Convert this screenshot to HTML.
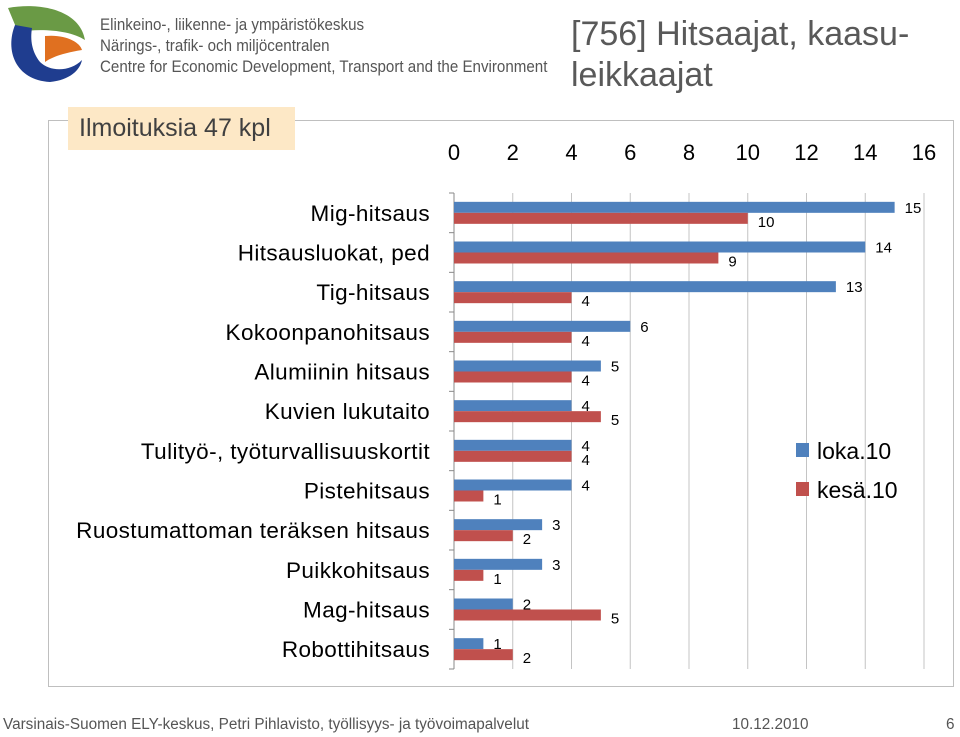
<!DOCTYPE html>
<html><head><meta charset="utf-8"><style>
body{margin:0;width:960px;height:737px;background:#fff;position:relative;overflow:hidden;font-family:"Liberation Sans",sans-serif}
.a{position:absolute;white-space:nowrap}
</style></head><body>
<svg class="a" style="left:0;top:0" width="100" height="90">
<path d="M8,8 C40,2 80,10 85,40 C70,30 40,28 18,32 Z" fill="#6a9a45"/>
<path d="M45,36 C65,34 80,42 82,50 C70,52 55,55 45,62 Z" fill="#e07020"/>
<path d="M15,25 C5,50 15,80 50,82 C70,80 80,70 82,60 C70,72 50,72 40,62 C32,52 30,40 32,28 Z" fill="#1f3d8f"/>
</svg>
<div class="a" style="left:100px;top:14px;font-size:17px;color:#555;line-height:21px;transform:scaleX(0.89);transform-origin:0 0">Elinkeino-, liikenne- ja ympäristökeskus<br>Närings-, trafik- och miljöcentralen<br>Centre for Economic Development, Transport and the Environment</div>
<div class="a" style="left:571px;top:14px;font-size:34px;color:#595959;line-height:41px;transform:scaleX(1.0);transform-origin:0 0">[756] Hitsaajat, kaasu-<br>leikkaajat</div>
<div class="a" style="left:48px;top:120px;width:904px;height:565px;border:1px solid #bfbfbf"></div>
<div class="a" style="left:68px;top:107px;width:227px;height:43px;background:#fde8c6;font-size:25px;color:#404040;line-height:43px;text-indent:11px">Ilmoituksia 47 kpl</div>
<svg class="a" id="chart" style="left:0;top:0" width="960" height="737"></svg>
<div class="a" style="left:3px;top:716px;font-size:15.3px;color:#555">Varsinais-Suomen ELY-keskus, Petri Pihlavisto, työllisyys- ja työvoimapalvelut</div>
<div class="a" style="left:732px;top:716px;font-size:15.3px;color:#555">10.12.2010</div>
<div class="a" style="left:946px;top:716px;font-size:15.3px;color:#555">6</div>
<script>
const categories=["Mig-hitsaus","Hitsausluokat, ped","Tig-hitsaus","Kokoonpanohitsaus","Alumiinin hitsaus","Kuvien lukutaito","Tulityö-, työturvallisuuskortit","Pistehitsaus","Ruostumattoman teräksen hitsaus","Puikkohitsaus","Mag-hitsaus","Robottihitsaus"];
const loka=[15,14,13,6,5,4,4,4,3,3,2,1];
const kesa=[10,9,4,4,4,5,4,1,2,1,5,2];
const ticks=[0,2,4,6,8,10,12,14,16];
const NS="http://www.w3.org/2000/svg";
const svg=document.getElementById('chart');
const x0=454,x1=924,plotTop=193,plotBot=669;
const xs=v=>x0+(x1-x0)*v/16;
const band=(plotBot-plotTop)/categories.length;
const yc=i=>plotTop+band*(i+0.5);
function mk(t,a){const e=document.createElementNS(NS,t);for(const k in a)e.setAttribute(k,a[k]);svg.appendChild(e);return e;}
ticks.forEach(t=>{
 if(t>0){const g=mk('line',{x1:xs(t),x2:xs(t),y1:plotTop,y2:plotBot,stroke:'#c4c4c4','stroke-width':1});
 
 }
 const l=mk('text',{x:xs(t),y:160,'text-anchor':'middle','font-size':22,fill:'#000','font-family':'Liberation Sans, sans-serif'});
 l.textContent=t;
 
 
});
const ax=mk('line',{x1:x0,x2:x0,y1:plotTop,y2:plotBot,stroke:'#888'});


for(let i=0;i<=categories.length;i++){const t=mk('line',{x1:x0-5,x2:x0,y1:plotTop+band*i,y2:plotTop+band*i,stroke:'#888'});
 
 }
categories.forEach((c,i)=>{
 const y=yc(i);
 const l=mk('text',{x:430,y:y+8,'text-anchor':'end','font-size':22.5,fill:'#000','font-family':'Liberation Sans, sans-serif','letter-spacing':'0.4'});
 l.textContent=c;
 
 
 const b=mk('rect',{x:x0,y:y-11,width:xs(loka[i])-x0,height:11,fill:'#4f81bd'});
 
 
 const r=mk('rect',{x:x0,y:y,width:xs(kesa[i])-x0,height:11,fill:'#c0504d'});
 
 
 const v1=mk('text',{x:xs(loka[i])+10,y:y,'font-size':15,fill:'#000','font-family':'Liberation Sans, sans-serif'});
 v1.textContent=loka[i];
 
 
 const v2=mk('text',{x:xs(kesa[i])+10,y:y+14,'font-size':15,fill:'#000','font-family':'Liberation Sans, sans-serif'});
 v2.textContent=kesa[i];
 
 
});
const leg=[['loka.10','#4f81bd',443],['kesä.10','#c0504d',482]];
leg.forEach(([n,c,y])=>{
 const s=mk('rect',{x:796,y:y,width:13,height:14,fill:c});
 
 
 const t=mk('text',{x:817,y:y+16,'font-size':23,fill:'#000','font-family':'Liberation Sans, sans-serif'});
 t.textContent=n;
 
 
});
</script>
</body></html>
